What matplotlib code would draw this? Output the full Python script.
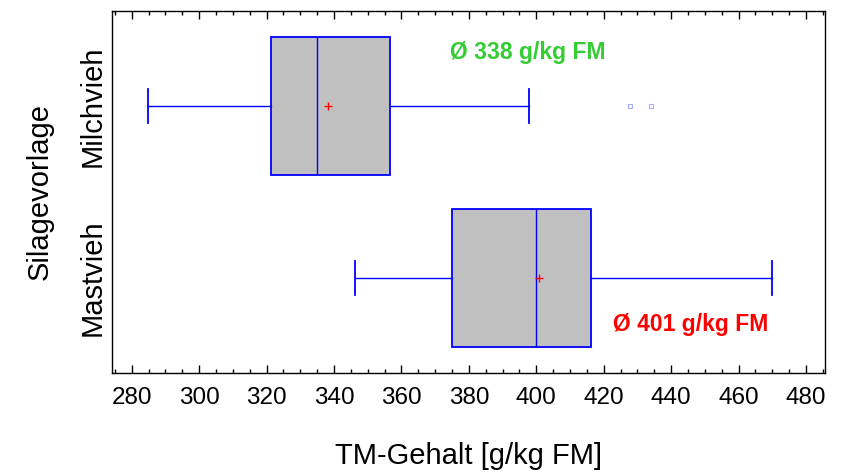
import matplotlib
matplotlib.use("Agg")
import matplotlib.pyplot as plt
from matplotlib.ticker import MultipleLocator

plt.rcParams['font.family'] = ['Liberation Sans', 'DejaVu Sans']

categories = ["Mastvieh", "Milchvieh"]
whisker_low = [346.3, 284.8]
q1 = [375.1, 321.3]
median = [399.8, 335.1]
mean = [400.7, 338.3]
q3 = [416.2, 356.7]
whisker_high = [469.8, 397.9]
outliers = [[], [427.9, 433.9]]
mean_labels = ["Ø 401 g/kg FM", "Ø 338 g/kg FM"]
label_colors = ["#ff0000", "#33cc33"]
label_x = [422.6, 374.5]
label_y = [0.73, 2.31]

fig = plt.figure(figsize=(8.43, 4.72), dpi=100)
ax = fig.add_axes([0.133, 0.2104, 0.846, 0.7669])

stats = []
for i, c in enumerate(categories):
    stats.append(dict(label=c, whislo=whisker_low[i], q1=q1[i], med=median[i],
                      mean=mean[i], q3=q3[i], whishi=whisker_high[i], fliers=outliers[i]))

blue = "#0000ff"
ax.bxp(stats, positions=[1, 2], widths=0.8, vert=False, patch_artist=True,
       showmeans=True, capwidths=0.2,
       boxprops=dict(facecolor="#c0c0c0", edgecolor=blue, linewidth=1.3),
       medianprops=dict(color=blue, linewidth=1.0),
       whiskerprops=dict(color=blue, linewidth=1.0),
       capprops=dict(color=blue, linewidth=1.3),
       meanprops=dict(marker="+", markeredgecolor="red", markersize=6, markeredgewidth=1.0),
       flierprops=dict(marker="s", markersize=3.5, markerfacecolor="none",
                       markeredgecolor="#aaaaff", markeredgewidth=0.8))

for i in range(len(categories)):
    ax.text(label_x[i], label_y[i], mean_labels[i], color=label_colors[i],
            fontsize=16.5, fontweight="bold", ha="left", va="center")

ax.set_xlim(274.2, 485.7)
ax.set_ylim(0.45, 2.555)
ax.xaxis.set_major_locator(MultipleLocator(20))
ax.xaxis.set_minor_locator(MultipleLocator(5))
ax.tick_params(axis="x", which="major", direction="in", length=6, width=1,
               top=True, labelsize=17.5, pad=10)
ax.tick_params(axis="x", which="minor", direction="in", length=3, width=1, top=True)
ax.tick_params(axis="y", which="both", length=0, labelsize=21, pad=4)
ax.set_yticks([1, 2])
ax.set_yticklabels(categories, rotation=90, va="center")
for s in ax.spines.values():
    s.set_linewidth(1.0)

ax.set_xlabel("TM-Gehalt [g/kg FM]", fontsize=21, labelpad=24)
ax.set_ylabel("Silagevorlage", fontsize=21, labelpad=18)

fig.savefig("out.png", dpi=100)
